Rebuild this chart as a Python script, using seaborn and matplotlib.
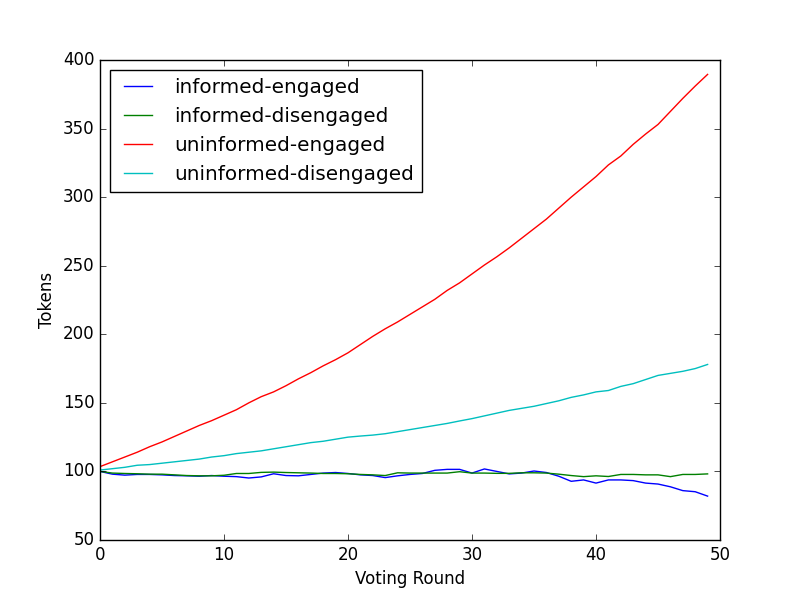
import numpy as np
import seaborn as sns
from matplotlib import pyplot as plt

# voting rounds 0..49
rounds = np.arange(50)

# tokens per group
informed_engaged = [100, 98, 97.3, 97.8, 97.8, 97.5, 97, 96.8, 96.5, 97,
                    96.5, 96.2, 95.2, 96, 98.3, 97, 96.8, 97.8, 98.8, 99.2,
                    98.5, 97.5, 97, 95.5, 96.8, 97.8, 98.5, 100.8, 101.5, 101.5,
                    98.8, 101.8, 100, 98.2, 98.8, 100.3, 99.2, 96.5, 92.8, 93.8,
                    91.5, 93.8, 93.8, 93.3, 91.5, 90.8, 88.8, 86, 85.2, 82]
informed_disengaged = [100, 98.8, 98.5, 98.3, 98, 98, 97.5, 97, 96.8, 96.8,
                       97.2, 98.5, 98.5, 99.3, 99.5, 99.2, 99, 98.8, 98.5, 98.5,
                       98.3, 97.8, 97.5, 97, 99, 98.8, 98.8, 98.8, 98.8, 99.8,
                       98.8, 98.8, 98.6, 98.6, 99, 99, 98.8, 98, 97, 96.2,
                       96.8, 96.3, 97.8, 97.8, 97.5, 97.5, 96.2, 97.8, 97.8, 98.2]
uninformed_engaged = [103.5, 107, 110.5, 114, 118, 121.5, 125.5, 129.5, 133.5, 137,
                      141, 145, 150, 154.5, 158, 162.5, 167.5, 172, 177, 181.5,
                      186.5, 192.5, 198.5, 204, 209, 214.5, 220, 225.5, 232, 237.5,
                      244, 250.5, 256.5, 263, 270, 277, 284, 292, 300, 307.5,
                      315, 323.5, 330, 338.5, 346, 353, 362.5, 372, 381, 389.5]
uninformed_disengaged = [101, 102, 103, 104.5, 105, 106, 107, 108, 109, 110.5,
                         111.5, 113, 114, 115, 116.5, 118, 119.5, 121, 122, 123.5,
                         125, 125.8, 126.5, 127.5, 129, 130.5, 132, 133.5, 135, 136.8,
                         138.5, 140.5, 142.5, 144.5, 146, 147.5, 149.5, 151.5, 154, 155.8,
                         158, 159, 162, 164, 167, 170, 171.5, 173, 175, 178]

series = {
    'informed-engaged': (informed_engaged, 'b'),
    'informed-disengaged': (informed_disengaged, 'g'),
    'uninformed-engaged': (uninformed_engaged, 'r'),
    'uninformed-disengaged': (uninformed_disengaged, 'c'),
}

plt.style.use('classic')
fig, ax = plt.subplots(figsize=(8, 6), dpi=100)
fig.patch.set_facecolor('white')

for name, (vals, color) in series.items():
    sns.lineplot(x=rounds, y=vals, color=color, label=name, ax=ax, linewidth=1)

ax.set_xlim(0, 50)
ax.set_ylim(50, 400)
ax.set_xlabel('Voting Round')
ax.set_ylabel('Tokens')
ax.legend(loc='upper left')

plt.savefig('out.png', dpi=100, facecolor='white')
